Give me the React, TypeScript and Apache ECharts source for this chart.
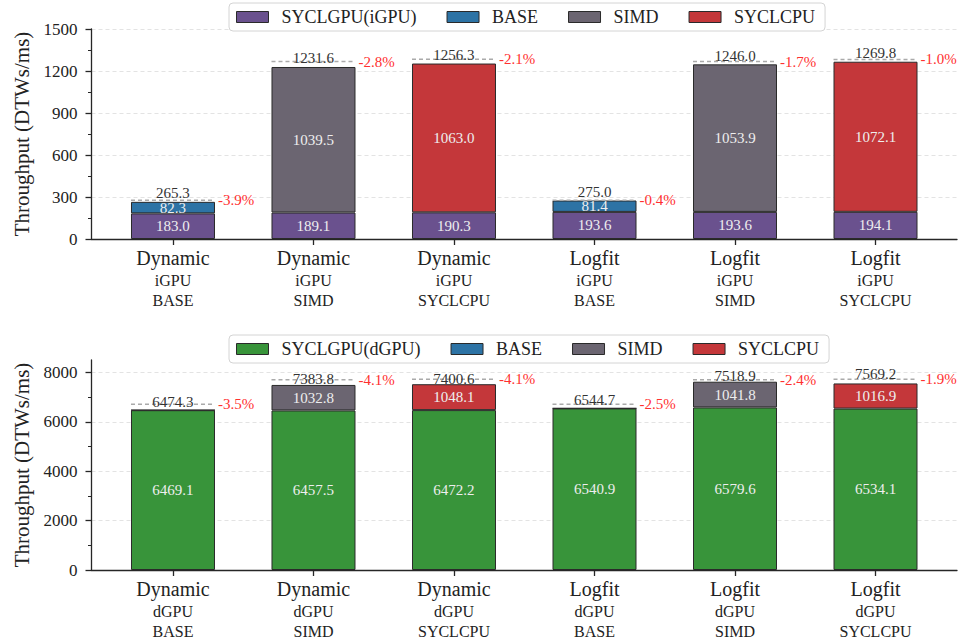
import { useEffect, useRef } from "react";
import * as echarts from "echarts";

// Scheduling policy and CPU variant for each bar position
const methods = ["Dynamic", "Dynamic", "Dynamic", "Logfit", "Logfit", "Logfit"];
const cpuModes = ["BASE", "SIMD", "SYCLCPU", "BASE", "SIMD", "SYCLCPU"];
const cpuSeriesNames = ["BASE", "SIMD", "SYCLCPU"];

// Integrated GPU runs (DTWs/ms)
const igpuShare = [183.0, 189.1, 190.3, 193.6, 193.6, 194.1];
const igpuCpuShare = [82.3, 1039.5, 1063.0, 81.4, 1053.9, 1072.1];
const igpuTotal = [265.3, 1231.6, 1256.3, 275.0, 1246.0, 1269.8];
const igpuLoss = [-3.9, -2.8, -2.1, -0.4, -1.7, -1.0];

// Discrete GPU runs (DTWs/ms)
const dgpuShare = [6469.1, 6457.5, 6472.2, 6540.9, 6579.6, 6534.1];
const dgpuCpuShare = [5.2, 1032.8, 1048.1, 3.8, 1041.8, 1016.9];
const dgpuTotal = [6474.3, 7383.8, 7400.6, 6544.7, 7518.9, 7569.2];
const dgpuLoss = [-3.5, -4.1, -4.1, -2.5, -2.4, -1.9];

// Y axis tick values
const topTicks = [0, 300, 600, 900, 1200, 1500];
const bottomTicks = [0, 2000, 4000, 6000, 8000];

const FONT = '"Liberation Serif", "Times New Roman", serif';
const BAR_W = 84;
const EDGE = "#2a2a2a";
const AXIS = "#262626";

const COLORS: Record<string, string> = {
  "SYCLGPU(iGPU)": "#6a518e",
  "SYCLGPU(dGPU)": "#38943a",
  BASE: "#2d73a5",
  SIMD: "#6b6571",
  SYCLCPU: "#c4373a",
};

const positions = methods.map((_, i) => i);
const midpoints = (ticks: number[]) =>
  ticks.slice(1).map((t, i) => (t + ticks[i]) / 2);

function xAxisFor(gridIndex: number, gpu: string) {
  return {
    type: "value",
    gridIndex,
    min: -0.58,
    max: 5.58,
    axisLine: { show: true, onZero: false, lineStyle: { color: AXIS, width: 1.3 } },
    axisTick: {
      show: true,
      customValues: positions,
      length: 6,
      lineStyle: { color: AXIS, width: 1.3 },
    },
    axisLabel: {
      customValues: positions,
      margin: 7,
      fontFamily: FONT,
      color: "#222",
      formatter: (v: number) => {
        const i = Math.round(v);
        return `{m|${methods[i]}}\n{s|${gpu}}\n{s|${cpuModes[i]}}`;
      },
      rich: {
        m: { fontSize: 20, lineHeight: 24, fontFamily: FONT, color: "#222" },
        s: { fontSize: 16, lineHeight: 20, fontFamily: FONT, color: "#222" },
      },
    },
    splitLine: { show: false },
  };
}

function yAxesFor(gridIndex: number, ticks: number[], max: number) {
  const main = {
    type: "value",
    gridIndex,
    position: "left",
    offset: 0,
    min: 0,
    max,
    interval: ticks[1] - ticks[0],
    name: "Throughput (DTWs/ms)",
    nameLocation: "middle",
    nameGap: 58,
    nameTextStyle: { fontFamily: FONT, fontSize: 21, color: "#222" },
    axisLine: { show: true, onZero: false, lineStyle: { color: AXIS, width: 1.3 } },
    axisTick: {
      show: true,
      customValues: ticks,
      length: 6,
      lineStyle: { color: AXIS, width: 1.3 },
    },
    axisLabel: {
      customValues: ticks,
      margin: 14,
      fontFamily: FONT,
      fontSize: 17,
      color: "#222",
      formatter: (v: number) => String(v),
    },
    splitLine: {
      show: true,
      lineStyle: { color: "#e3e3e3", type: [4, 3], width: 1 },
    },
  };
  const minor = {
    type: "value",
    gridIndex,
    position: "left",
    offset: 0,
    min: 0,
    max,
    axisLine: { show: false, onZero: false },
    axisLabel: { show: false },
    splitLine: { show: false },
    axisTick: {
      show: true,
      customValues: midpoints(ticks),
      length: 3.5,
      lineStyle: { color: AXIS, width: 1 },
    },
  };
  return [main, minor];
}

// Rows are [value, position] so that the throughput column is the one stacked.
function barSeries(
  gridIndex: number,
  gpuName: string,
  gpuVals: number[],
  cpuVals: number[],
  axisMax: number
) {
  const axes = { xAxisIndex: gridIndex, yAxisIndex: gridIndex * 2 };
  const stack = `stack${gridIndex}`;
  const label = {
    show: true,
    position: "inside",
    fontFamily: FONT,
    fontSize: 15,
    color: "#eeeeee",
    formatter: (p: any) => {
      const v = p.value[0];
      return typeof v === "number" && v > axisMax * 0.02 ? v.toFixed(1) : "";
    },
  };
  const common = {
    type: "bar",
    stack,
    barWidth: BAR_W,
    encode: { x: 1, y: 0 },
    ...axes,
    label,
    z: 2,
  };
  const list: any[] = [
    {
      ...common,
      name: gpuName,
      data: gpuVals.map((v, i) => [v, i]),
      itemStyle: { color: COLORS[gpuName], borderColor: EDGE, borderWidth: 1 },
    },
  ];
  for (const mode of cpuSeriesNames) {
    list.push({
      ...common,
      name: mode,
      data: cpuVals.map((v, i) => [cpuModes[i] === mode ? v : "-", i]),
      itemStyle: { color: COLORS[mode], borderColor: EDGE, borderWidth: 1 },
    });
  }
  return list;
}

function annotationSeries(gridIndex: number, totals: number[], losses: number[]) {
  return {
    type: "custom",
    xAxisIndex: gridIndex,
    yAxisIndex: gridIndex * 2,
    z: 5,
    silent: true,
    encode: { x: 0, y: 1 },
    data: totals.map((t, i) => [i, t, losses[i]]),
    renderItem: (_params: any, api: any) => {
      const x = api.value(0);
      const total = api.value(1);
      const loss = api.value(2);
      // ideal combined throughput the measured total falls short of
      const ideal = total / (1 + loss / 100);
      const [cx, yIdeal] = api.coord([x, ideal]);
      const yTotal = api.coord([x, total])[1];
      const half = BAR_W / 2;
      return {
        type: "group",
        children: [
          {
            type: "line",
            shape: { x1: cx - half, y1: yIdeal, x2: cx + half, y2: yIdeal },
            style: { stroke: "#aaaaaa", lineWidth: 1.5, lineDash: [4, 3] },
          },
          {
            type: "text",
            x: cx,
            y: yTotal - 1,
            style: {
              text: total.toFixed(1),
              fill: "#333333",
              fontFamily: FONT,
              fontSize: 15,
              align: "center",
              verticalAlign: "bottom",
            },
          },
          {
            type: "text",
            x: cx + half + 3,
            y: yIdeal,
            style: {
              text: `${loss.toFixed(1)}%`,
              fill: "#ff3030",
              fontFamily: FONT,
              fontSize: 15,
              align: "left",
              verticalAlign: "middle",
            },
          },
        ],
      };
    },
  };
}

function legendFor(top: number, gpuName: string) {
  return {
    top,
    left: 229,
    orient: "horizontal",
    data: [gpuName, ...cpuSeriesNames],
    itemWidth: 32,
    itemHeight: 11,
    itemGap: 30,
    padding: [5, 10, 5, 7],
    backgroundColor: "#ffffff",
    borderColor: "#d4d4d4",
    borderWidth: 1,
    borderRadius: 4,
    icon: "rect",
    selectedMode: false,
    textStyle: {
      fontFamily: FONT,
      fontSize: 18,
      color: "#222",
      padding: [0, 0, 0, 8],
    },
    itemStyle: { borderColor: EDGE, borderWidth: 1 },
  };
}

export default function App() {
  const ref = useRef<HTMLDivElement>(null);

  useEffect(() => {
    if (!ref.current) return;
    const chart = echarts.init(ref.current, undefined, { renderer: "svg" });
    const topMax = 1500;
    const bottomMax = 8500;
    chart.setOption({
      animation: false,
      backgroundColor: "#ffffff",
      textStyle: { fontFamily: FONT },
      grid: [
        { left: 91.5, right: 2, top: 29, height: 210 },
        { left: 91.5, right: 2, top: 360, height: 210 },
      ],
      legend: [legendFor(3, "SYCLGPU(iGPU)"), legendFor(335, "SYCLGPU(dGPU)")],
      xAxis: [xAxisFor(0, "iGPU"), xAxisFor(1, "dGPU")],
      yAxis: [...yAxesFor(0, topTicks, topMax), ...yAxesFor(1, bottomTicks, bottomMax)],
      series: [
        ...barSeries(0, "SYCLGPU(iGPU)", igpuShare, igpuCpuShare, topMax),
        annotationSeries(0, igpuTotal, igpuLoss),
        ...barSeries(1, "SYCLGPU(dGPU)", dgpuShare, dgpuCpuShare, bottomMax),
        annotationSeries(1, dgpuTotal, dgpuLoss),
      ],
    });
    return () => chart.dispose();
  }, []);

  return (
    <div
      ref={ref}
      style={{ position: "fixed", left: 0, top: 0, width: 959, height: 642 }}
    />
  );
}
